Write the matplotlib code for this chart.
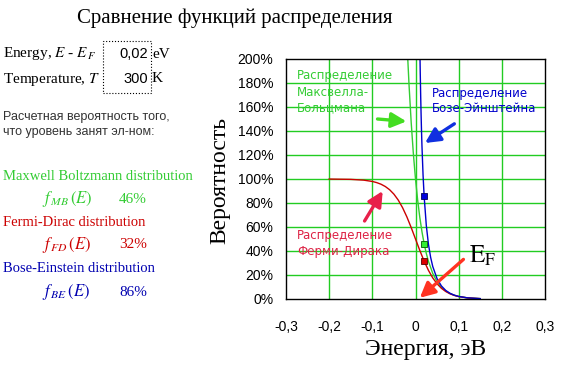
import matplotlib
matplotlib.use("Agg")
import matplotlib.pyplot as plt
from matplotlib.patches import Rectangle

W, H = 569, 378
SERIF = ["Liberation Serif", "DejaVu Serif"]
SANS = ["Liberation Sans", "DejaVu Sans"]
PIX = ["DejaVu Sans"]

GREEN = "#33cc33"
RED = "#cc0000"
BLUE = "#0000b0"
GRID = "#22cc22"

# occupation probability (%), T = 300 K
FD_E = [-0.20, -0.15, -0.12, -0.10, -0.09, -0.08, -0.07, -0.06, -0.05, -0.04, -0.03,
        -0.02, -0.01, 0.00, 0.01, 0.02, 0.03, 0.04, 0.05, 0.06, 0.07, 0.08, 0.09,
        0.10, 0.12, 0.15]
FD_P = [99.96, 99.70, 99.05, 97.95, 97.01, 95.67, 93.75, 91.06, 87.37, 82.45, 76.14,
        68.43, 59.55, 50.00, 40.45, 31.57, 23.86, 17.55, 12.63, 8.94, 6.25, 4.33, 2.99,
        2.05, 0.95, 0.30]
MB_E = [-0.0179, -0.015, -0.01, -0.005, 0.0, 0.005, 0.01, 0.015, 0.02, 0.025, 0.03,
        0.04, 0.05, 0.06, 0.07, 0.08, 0.09, 0.10, 0.12, 0.15]
MB_P = [200.0, 178.6, 147.2, 121.3, 100.0, 82.41, 67.92, 55.98, 46.13, 38.02, 31.34,
        21.28, 14.46, 9.82, 6.67, 4.53, 3.08, 2.09, 0.96, 0.30]
BE_E = [0.0105, 0.011, 0.012, 0.013, 0.014, 0.015, 0.0175, 0.02, 0.025, 0.03, 0.035,
        0.04, 0.05, 0.06, 0.07, 0.08, 0.09, 0.10, 0.12, 0.15]
BE_P = [199.6, 188.5, 169.3, 153.1, 139.1, 127.2, 103.3, 85.64, 61.35, 45.64, 34.81,
        27.04, 16.90, 10.89, 7.15, 4.75, 3.18, 2.14, 0.97, 0.30]

# the chosen point E - EF = 0,02 eV
E_SEL = 0.02
P_SEL = {"MB": 46, "FD": 32, "BE": 86}

X_TICKS = [-0.3, -0.2, -0.1, 0.0, 0.1, 0.2, 0.3]
X_LABELS = ["-0,3", "-0,2", "-0,1", "0", "0,1", "0,2", "0,3"]
Y_TICKS = [0, 20, 40, 60, 80, 100, 120, 140, 160, 180, 200]
Y_LABELS = [f"{v}%" for v in Y_TICKS]

plt.rcParams["mathtext.fontset"] = "stix"

fig = plt.figure(figsize=(W / 100, H / 100), dpi=100)
fig.patch.set_facecolor("white")


def ftext(x, y, s, **kw):
    """Place text at pixel coordinates measured from the top-left corner."""
    fig.text(x / W, 1 - y / H, s, **kw)


ax = fig.add_axes([286 / W, 1 - 299 / H, 259 / W, 240 / H])
ax.set_xlim(-0.3, 0.3)
ax.set_ylim(0, 200)
ax.set_xticks(X_TICKS)
ax.set_xticklabels(X_LABELS)
ax.set_yticks(Y_TICKS)
ax.set_yticklabels(Y_LABELS)
ax.tick_params(length=0, labelsize=10)
ax.tick_params(axis="y", pad=9)
ax.tick_params(axis="x", pad=15)
for lab in ax.get_xticklabels() + ax.get_yticklabels():
    lab.set_family(SANS)
for x in X_TICKS[1:-1]:
    ax.axvline(x, color=GRID, lw=1.0, zorder=1)
for y in Y_TICKS[1:-1]:
    ax.axhline(y, color=GRID, lw=1.0, zorder=1)
for sp in ax.spines.values():
    sp.set_linewidth(1.0)
    sp.set_zorder(5)

ax.plot(MB_E, MB_P, color=GREEN, lw=1.0, zorder=3)
ax.plot(FD_E, FD_P, color=RED, lw=1.0, zorder=3)
ax.plot(BE_E, BE_P, color="#0000cc", lw=1.0, zorder=3)
ax.plot([E_SEL], [P_SEL["BE"]], "s", ms=4.5, mfc="#0000dd", mec="#000055", mew=0.6, zorder=4)
ax.plot([E_SEL], [P_SEL["MB"]], "s", ms=4.5, mfc="#33ee33", mec="#005500", mew=0.6, zorder=4)
ax.plot([E_SEL], [P_SEL["FD"]], "s", ms=4.5, mfc="#dd0000", mec="#550000", mew=0.6, zorder=4)


def arrow(tail, head, color):
    ax.annotate("", xy=head, xytext=tail, zorder=6,
                arrowprops=dict(arrowstyle="-|>,head_length=0.9,head_width=0.45",
                                color=color, lw=2.4, shrinkA=0, shrinkB=0))


arrow((-0.088, 150), (-0.021, 148), "#44dd22")
arrow((0.090, 146), (0.022, 130), "#1030e0")
arrow((-0.118, 65), (-0.076, 90), "#e8204a")
arrow((0.111, 33), (0.010, 1), "#ff3322")

ax.text(-0.275, 172.5, "Распределение\nМаксвелла-\nБольцмана", color=GREEN,
        fontsize=8.5, family=PIX, ha="left", va="center", linespacing=1.3, zorder=6)
ax.text(0.039, 165, "Распределение\nБозе-Эйнштейна", color="#0000cc",
        fontsize=8.5, family=PIX, ha="left", va="center", linespacing=1.3, zorder=6)
ax.text(-0.275, 46, "Распределение\nФерми-Дирака", color="#dd2244",
        fontsize=8.5, family=PIX, ha="left", va="center", linespacing=1.3, zorder=6)
ax.text(0.124, 36, r"$\mathrm{E}_{\mathrm{F}}$", fontsize=18, ha="left", va="center", zorder=6)

# titles and axis labels
ftext(235, 18, "Сравнение функций распределения", family=SERIF, fontsize=15,
      ha="center", va="center")
ftext(220, 180, "Вероятность", family=SERIF, fontsize=17, rotation=90,
      ha="center", va="center")
ftext(426, 350, "Энергия, эВ", family=SERIF, fontsize=17, ha="center", va="center")

# input cells
fig.add_artist(Rectangle((103 / W, 1 - 93 / H), 48 / W, 52 / H, transform=fig.transFigure,
                         fill=False, ls=":", lw=0.8, ec="black"))
ftext(3, 54, r"Energy, $E$ - $E_{\,F}$", family=SERIF, fontsize=11, va="center")
ftext(148, 54, "0,02", family=SANS, fontsize=10.5, ha="right", va="center")
ftext(152, 54, "eV", family=SERIF, fontsize=11, va="center")
ftext(3, 79, r"Temperature, $T$", family=SERIF, fontsize=11, va="center")
ftext(148, 79, "300", family=SANS, fontsize=10.5, ha="right", va="center")
ftext(152, 79, "K", family=SERIF, fontsize=11, va="center")

ftext(3, 117, "Расчетная вероятность того,", family=SANS, fontsize=9,
      color="#333333", va="center")
ftext(3, 132, "что уровень занят эл-ном:", family=SANS, fontsize=9,
      color="#333333", va="center")

# calculated results
rows = [
    ("Maxwell Boltzmann distribution", r"$f_{\,MB}\,(E)$", "MB", GREEN, 176),
    ("Fermi-Dirac distribution", r"$f_{\,FD}\,(E)$", "FD", RED, 222),
    ("Bose-Einstein distribution", r"$f_{\,BE}\,(E)$", "BE", BLUE, 269),
]
for name, sym, key, col, y in rows:
    ftext(3, y, name, family=SERIF, fontsize=10.5, color=col, va="center")
    ftext(42, y + 23, sym, fontsize=12, color=col, va="center")
    ftext(147, y + 23, f"{P_SEL[key]}%", family=SERIF, fontsize=11, color=col,
          ha="right", va="center")

fig.savefig("out.png", dpi=100)
